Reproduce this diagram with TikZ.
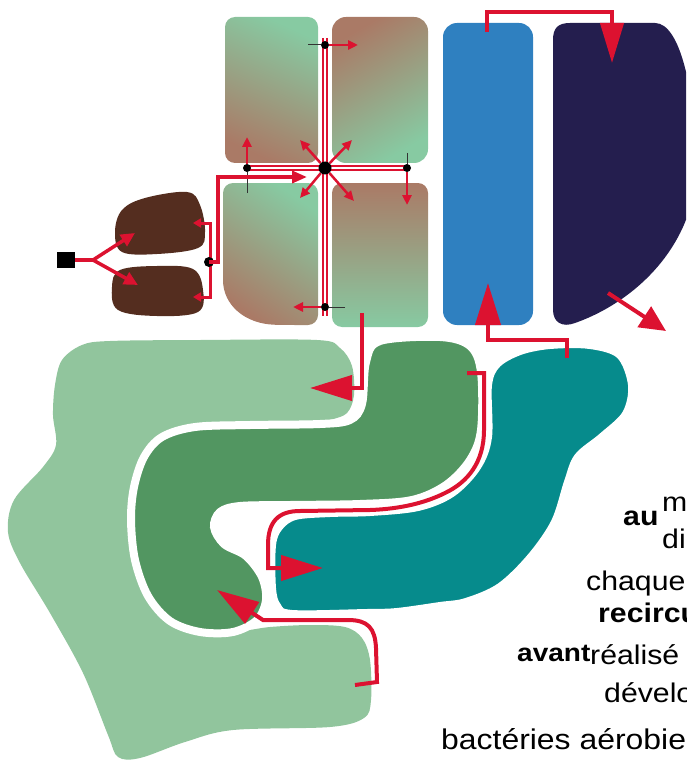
\documentclass[tikz,border=0pt]{standalone}
\usepackage{fontspec}
\setmainfont{Liberation Sans}[FakeStretch=1.12]
\usetikzlibrary{arrows.meta}
\definecolor{lgreen}{RGB}{145,197,157}
\definecolor{dgreen}{RGB}{82,150,97}
\definecolor{tealc}{RGB}{6,139,140}
\definecolor{tblue}{RGB}{47,128,192}
\definecolor{navyc}{RGB}{36,30,78}
\definecolor{sludge}{RGB}{84,45,31}
\definecolor{sqgreen}{RGB}{135,202,162}
\definecolor{sqbrown}{RGB}{170,122,102}
\definecolor{flow}{RGB}{220,18,48}
\begin{document}
\begin{tikzpicture}[x=1pt,y=-1pt,
  flowline/.style={draw=flow, line width=4pt},
  bigtip/.style={-{Triangle[length=42pt,width=25pt]}},
  midtip/.style={-{Triangle[length=15pt,width=12pt]}},
  forktip/.style={-{Triangle[length=14pt,width=13pt]}},
  smalltip/.style={-{Triangle[length=10pt,width=9pt]}},
  smallflow/.style={draw=flow, line width=2.5pt, smalltip},
  feeler/.style={draw=black!80, line width=1pt},
  pipe/.style={draw=flow, line width=1.6pt, double=white, double distance=2.4pt},
  dot/.style={circle, fill=black, inner sep=0pt, minimum size=8pt},
  hub/.style={circle, fill=black, inner sep=0pt, minimum size=13pt},
  gap/.style={draw=white, line width=8pt},
  txt/.style={anchor=base west, inner sep=0pt, font=\fontsize{27}{32}\selectfont},
  txtb/.style={anchor=base west, inner sep=0pt, font=\fontsize{27}{32}\selectfont\bfseries},
]
\useasboundingbox (0,0) rectangle (686,762);
\clip (0,0) rectangle (686,762);

% ---------- aeration basins (bottom) ----------
\fill[lgreen] plot[smooth cycle, tension=0.55] coordinates {
 (55,385) (62,360) (82,345) (110,341) (200,340) (317,340) (340,348) (352,366)
 (354,395) (347,413) (330,420) (300,428) (250,429) (195,432) (163,443) (145,461)
 (136,488) (133,520) (136,556) (148,590) (172,617) (205,630) (240,631) (270,627)
 (310,625) (345,627) (362,638) (370,660) (371,700) (364,718) (330,727) (233,730)
 (185,742) (140,758) (118,757) (108,735) (83,673) (50,613) (20,563) (8,532)
 (14,500) (43,467) (56,445) (53,415)};

\filldraw[fill=dgreen, gap] plot[smooth cycle, tension=0.55] coordinates {
 (366,362) (380,341) (440,337) (470,346) (481,372) (481,430) (470,460) (446,485)
 (412,500) (360,504) (290,505) (240,506) (220,512) (214,527) (224,544) (246,556)
 (262,577) (266,600) (257,620) (233,632) (200,632) (170,621) (148,596) (135,560)
 (131,520) (134,487) (144,457) (162,437) (195,427) (250,425) (320,424) (350,420)
 (362,404)};

\filldraw[fill=tealc, gap] plot[smooth cycle, tension=0.55] coordinates {
 (488,385) (497,364) (520,351) (550,345) (590,345) (620,355) (632,385) (626,414)
 (602,437) (578,457) (568,482) (555,522) (531,557) (500,587) (466,602) (440,606)
 (397,612) (367,613) (292,614) (277,606) (272,588) (272,545) (279,527) (295,516)
 (330,513) (370,512) (418,507) (452,493) (477,467) (488,437)};

% ---------- clarifiers ----------
\fill[tblue, rounded corners=14pt] (443,23) rectangle (533,325);
\fill[navyc] (553,40) .. controls (553,28) and (558,23) .. (570,23) -- (655,23)
  .. controls (680,23) and (695,90) .. (696,165)
  .. controls (697,240) and (640,300) .. (575,323)
  .. controls (562,328) and (553,322) .. (553,310) -- cycle;

% ---------- sludge blobs ----------
\fill[sludge] plot[smooth cycle, tension=0.6] coordinates {
 (115,232) (122,210) (145,198) (187,192) (200,205) (205,232) (198,248) (157,254) (122,252)};
\fill[sludge] plot[smooth cycle, tension=0.6] coordinates {
 (112,287) (120,270) (157,266) (193,269) (203,290) (198,312) (157,316) (118,310)};

% ---------- four gradient cells ----------
\shade[top color=sqgreen, bottom color=sqbrown, shading angle=-25, rounded corners=10pt]
  (225,17) rectangle (318,163);
\shade[top color=sqbrown, bottom color=sqgreen, shading angle=30, rounded corners=14pt]
  (332,17) rectangle (428,163);
\shade[top color=sqgreen, bottom color=sqbrown, shading angle=-35]
  (223,280) [rounded corners=10pt] -- (223,183) -- (318,183) -- (318,325) -- (285,325)
  [sharp corners] .. controls (245,324) and (223,305) .. (223,280) -- cycle;
\shade[top color=sqbrown, bottom color=sqgreen, rounded corners=10pt]
  (332,183) rectangle (428,327);

% ---------- distribution pipes ----------
\coordinate (pT) at (325,38);
\coordinate (pB) at (325,316);
\coordinate (pL) at (247,168);
\coordinate (pR) at (407,168);
\draw[pipe] (pT) -- (pB);
\draw[pipe] (pL) -- (pR);

\node[hub] (c) at (325,168) {};
\node[dot] (dT) at (325,45) {};
\node[dot] (dL) at (247,168) {};
\node[dot] (dR) at (407,168) {};
\node[dot] (dB) at (325,307) {};

\coordinate (fT) at (308,45);   \coordinate (aT) at (358,45);
\coordinate (fL) at (247,193);  \coordinate (aL) at (247,137);
\coordinate (fR) at (407,153);  \coordinate (aR) at (407,205);
\coordinate (fB) at (345,307);  \coordinate (aB) at (293,307);
\draw[feeler] (fT) -- (dT);  \draw[smallflow] (dT) -- (aT);
\draw[feeler] (fL) -- (dL);  \draw[smallflow] (dL) -- (aL);
\draw[feeler] (fR) -- (dR);  \draw[smallflow] (dR) -- (aR);
\draw[feeler] (fB) -- (dB);  \draw[smallflow] (dB) -- (aB);

\coordinate (c1) at (300,140); \coordinate (c2) at (352,140);
\coordinate (c3) at (300,198); \coordinate (c4) at (354,201);
\draw[smallflow] (c) -- (c1);
\draw[smallflow] (c) -- (c2);
\draw[smallflow] (c) -- (c3);
\draw[smallflow] (c) -- (c4);

% ---------- feed and sludge lines ----------
\node[fill=black, minimum width=18pt, minimum height=16pt, inner sep=0pt] (feed) at (66,260) {};
\coordinate (fork) at (93,260);
\coordinate (s1) at (135,233);
\coordinate (s2) at (138,285);
\draw[flowline, line width=3.5pt] (feed) -- (fork);
\draw[flowline, line width=3.5pt, forktip] (fork) -- (s1);
\draw[flowline, line width=3.5pt, forktip] (fork) -- (s2);

\coordinate (b1) at (193,223);
\coordinate (b2) at (193,297);
\coordinate (hubIn) at (307,177);
\draw[flowline, line width=3pt, -{Triangle[length=8pt,width=9pt]}] (210,262) -- (210,223) -- (b1);
\draw[flowline, line width=3pt, -{Triangle[length=8pt,width=9pt]}] (210,262) -- (210,297) -- (b2);
\node[dot, minimum size=10pt] (bd) at (209,262) {};
\draw[flowline, line width=3.5pt, midtip] (bd.center) -- (218,262) -- (218,177) -- (hubIn);

% ---------- main flow lines ----------
\coordinate (brOut) at (362,313);
\coordinate (lgIn) at (310,388);
\draw[flowline, bigtip] (brOut) |- (lgIn);

\coordinate (dgOut) at (467,373);
\coordinate (tealIn) at (323,568);
\draw[flowline, bigtip] (dgOut) -- (484,373) -- (484,430)
  .. controls (484,462) and (468,482) .. (445,493)
  .. controls (425,503) and (400,509) .. (370,510) -- (300,511)
  .. controls (278,511) and (268,522) .. (268,545) -- (268,568) -- (tealIn);

\coordinate (lgOut) at (355,685);
\coordinate (dgIn) at (217,590);
\draw[flowline, bigtip] (lgOut) -- (377,682) -- (376,648)
  .. controls (375,628) and (368,620) .. (348,620) -- (263,620) -- (dgIn);

\coordinate (tealOut) at (567,358);
\coordinate (blueIn) at (488,283);
\draw[flowline, bigtip] (tealOut) -- (567,340) -| (blueIn);

\coordinate (blueOut) at (487,32);
\coordinate (navyIn) at (612,63);
\draw[flowline, -{Triangle[length=40pt,width=23pt]}] (blueOut) -- (487,12) -| (navyIn);

\coordinate (navyOut) at (608,293);
\coordinate (effl) at (666,331);
\draw[flowline, -{Triangle[length=26pt,width=24pt]}] (navyOut) -- (effl);

% ---------- text fragments ----------
\node[txtb] (t1) at (623,525) {au};
\node[txt] (t2) at (662,511) {m};
\node[txt] (t3) at (662,548) {di};
\node[txt] (t4) at (586,590) {chaque};
\node[txtb] (t5) at (598,622) {recircu};
\node[txtb, font=\fontsize{25}{30}\selectfont\bfseries] (t6) at (517,661) {avant};
\node[txt] (t7) at (590,664) {réalisé};
\node[txt] (t8) at (604,702) {dévelo};
\node[txt, font=\fontsize{28.5}{34}\selectfont] (t9) at (441,749) {bactéries aérobie};
\end{tikzpicture}
\end{document}
